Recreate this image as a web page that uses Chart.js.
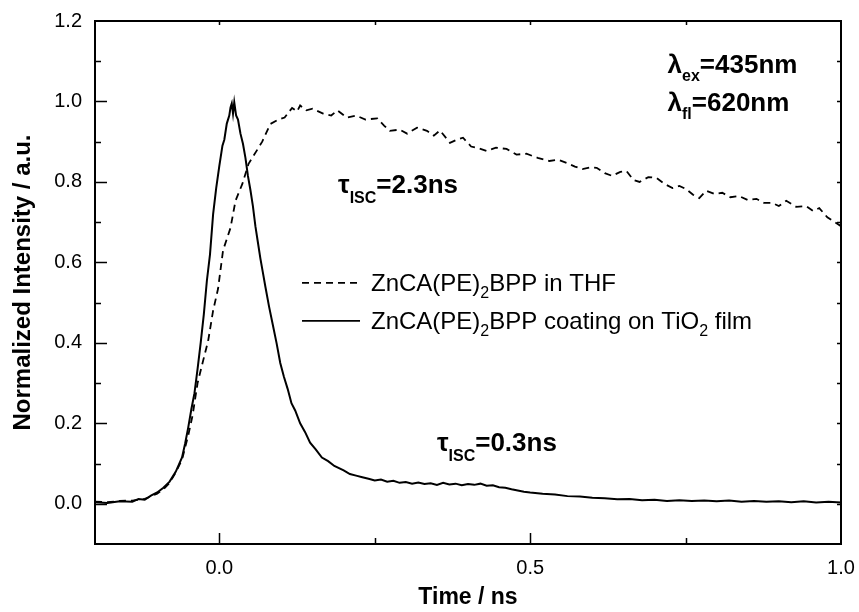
<!DOCTYPE html>
<html>
<head>
<meta charset="utf-8">
<script src="https://cdn.jsdelivr.net/npm/chart.js@4.4.1/dist/chart.umd.min.js"></script>
<style>
  html, body { margin: 0; padding: 0; background: #fff; }
  canvas { display: block; }
</style>
</head>
<body>
<canvas id="chart" width="859" height="612"></canvas>
<script>
// ZnCA(PE)2BPP in THF (dashed)
const timeTHF = [
  -0.20, -0.18, -0.16, -0.14, -0.12, -0.10, -0.09, -0.08, -0.07, -0.06,
  -0.05, -0.043, -0.035, -0.027, -0.018, -0.010, -0.002, 0.006, 0.018, 0.026,
  0.037, 0.047, 0.055, 0.069, 0.082, 0.095, 0.105, 0.117, 0.125, 0.130,
  0.140, 0.150, 0.167, 0.180, 0.190, 0.205, 0.220, 0.235, 0.254, 0.265,
  0.274, 0.290, 0.302, 0.318, 0.334, 0.345, 0.355, 0.371, 0.382, 0.392,
  0.405, 0.414, 0.430, 0.445, 0.462, 0.478, 0.494, 0.512, 0.531, 0.545,
  0.559, 0.572, 0.584, 0.597, 0.607, 0.620, 0.632, 0.645, 0.655, 0.666,
  0.676, 0.690, 0.703, 0.716, 0.729, 0.740, 0.751, 0.762, 0.772, 0.783,
  0.797, 0.809, 0.822, 0.836, 0.850, 0.864, 0.876, 0.889, 0.900, 0.912,
  0.928, 0.944, 0.955, 0.965, 0.978, 0.990, 1.000
];
const intensityTHF = [
  0.005, 0.004, 0.007, 0.008, 0.012, 0.025, 0.036, 0.052, 0.078, 0.110,
  0.170, 0.220, 0.300, 0.350, 0.405, 0.480, 0.535, 0.630, 0.686, 0.753,
  0.795, 0.845, 0.865, 0.900, 0.944, 0.955, 0.960, 0.984, 0.975, 0.990,
  0.978, 0.982, 0.970, 0.965, 0.978, 0.960, 0.965, 0.955, 0.958, 0.940,
  0.927, 0.930, 0.920, 0.935, 0.927, 0.915, 0.928, 0.897, 0.905, 0.910,
  0.888, 0.885, 0.877, 0.885, 0.882, 0.868, 0.870, 0.860, 0.852, 0.855,
  0.847, 0.838, 0.832, 0.836, 0.835, 0.822, 0.815, 0.825, 0.827, 0.805,
  0.800, 0.812, 0.810, 0.795, 0.785, 0.790, 0.782, 0.768, 0.760, 0.778,
  0.770, 0.773, 0.762, 0.765, 0.755, 0.758, 0.748, 0.748, 0.740, 0.753,
  0.738, 0.740, 0.728, 0.735, 0.712, 0.700, 0.690
];

// ZnCA(PE)2BPP coating on TiO2 film (solid)
const timeFilm = [
  -0.20, -0.18, -0.16, -0.14, -0.13, -0.12, -0.11, -0.10, -0.09, -0.08,
  -0.07, -0.06, -0.055, -0.05, -0.045, -0.04, -0.035, -0.03, -0.025, -0.02,
  -0.015, -0.01, -0.005, 0.000, 0.005, 0.008, 0.012, 0.016, 0.018, 0.020,
  0.022, 0.024, 0.027, 0.030, 0.034, 0.038, 0.042, 0.046, 0.050, 0.054,
  0.058, 0.062, 0.066, 0.070, 0.074, 0.080, 0.086, 0.092, 0.098, 0.104,
  0.110, 0.116, 0.122, 0.130, 0.138, 0.146, 0.155, 0.165, 0.175, 0.185,
  0.20, 0.21, 0.22, 0.23, 0.24, 0.25, 0.26, 0.27, 0.28, 0.29,
  0.30, 0.31, 0.32, 0.33, 0.34, 0.35, 0.36, 0.37, 0.38, 0.39,
  0.40, 0.41, 0.42, 0.43, 0.44, 0.45, 0.46, 0.47, 0.48, 0.49,
  0.50, 0.52, 0.54, 0.56, 0.58, 0.60, 0.62, 0.64, 0.66, 0.68,
  0.70, 0.72, 0.74, 0.76, 0.78, 0.80, 0.82, 0.84, 0.86, 0.88,
  0.90, 0.92, 0.94, 0.96, 0.98, 1.00
];
const intensityFilm = [
  0.004, 0.002, 0.006, 0.005, 0.012, 0.010, 0.020, 0.028, 0.040, 0.055,
  0.080, 0.115, 0.150, 0.190, 0.235, 0.275, 0.335, 0.400, 0.470, 0.555,
  0.620, 0.720, 0.785, 0.840, 0.890, 0.905, 0.945, 0.965, 0.985, 0.995,
  0.970, 0.998, 0.965, 0.955, 0.920, 0.895, 0.860, 0.815, 0.780, 0.740,
  0.690, 0.650, 0.610, 0.575, 0.540, 0.490, 0.445, 0.400, 0.350, 0.315,
  0.285, 0.250, 0.232, 0.200, 0.178, 0.152, 0.135, 0.115, 0.106, 0.094,
  0.083, 0.074, 0.070, 0.066, 0.062, 0.058, 0.060, 0.055, 0.057, 0.052,
  0.054, 0.050, 0.053, 0.049, 0.051, 0.047, 0.052, 0.048, 0.050, 0.046,
  0.049, 0.047, 0.050, 0.045, 0.046, 0.041, 0.040, 0.036, 0.033, 0.030,
  0.028, 0.025, 0.023, 0.019, 0.018, 0.015, 0.014, 0.011, 0.012, 0.009,
  0.010, 0.007, 0.009, 0.007, 0.008, 0.006, 0.008, 0.005, 0.007, 0.005,
  0.006, 0.004, 0.006, 0.003, 0.005, 0.003
];

const xMajorTicks = [0.0, 0.5, 1.0];
const yMajorTicks = [0.0, 0.2, 0.4, 0.6, 0.8, 1.0, 1.2];

// rich text pieces: [text, isSubscript]
const legendTHF = [['ZnCA(PE)', false], ['2', true], ['BPP in THF', false]];
const legendFilm = [['ZnCA(PE)', false], ['2', true], ['BPP coating on TiO', false], ['2', true], [' film', false]];
const noteEx = [['λ', false], ['ex', true], ['=435nm', false]];
const noteFl = [['λ', false], ['fl', true], ['=620nm', false]];
const noteTHF = [['τ', false], ['ISC', true], ['=2.3ns', false]];
const noteFilm = [['τ', false], ['ISC', true], ['=0.3ns', false]];

const FONT = "'Liberation Sans', Arial, sans-serif";
Chart.defaults.font.family = FONT;
Chart.defaults.color = '#000';

const isMajor = (v, list) => list.some(m => Math.abs(m - v) < 1e-6);

function drawRich(ctx, x, y, parts, size, bold, subSize, subDrop) {
  const w = bold ? 'bold ' : '';
  ctx.textBaseline = 'alphabetic';
  ctx.textAlign = 'left';
  for (const [t, sub] of parts) {
    ctx.font = w + (sub ? subSize : size) + 'px ' + FONT;
    ctx.fillText(t, x, sub ? y + subDrop : y);
    x += ctx.measureText(t).width;
  }
}

const decor = {
  id: 'decor',
  afterDraw(chart) {
    const {ctx, chartArea: a, scales: {x, y}} = chart;
    ctx.save();
    ctx.strokeStyle = '#000';
    ctx.fillStyle = '#000';

    // ticks pointing inwards, mirrored on top and right
    ctx.lineWidth = 1.5;
    ctx.beginPath();
    x.ticks.forEach(t => {
      if (t.value <= x.min + 1e-6 || t.value >= x.max - 1e-6) return;
      const px = Math.round(x.getPixelForValue(t.value)) + 0.5;
      const len = isMajor(t.value, xMajorTicks) ? 11 : 6;
      ctx.moveTo(px, a.bottom); ctx.lineTo(px, a.bottom - len);
      ctx.moveTo(px, a.top); ctx.lineTo(px, a.top + 4);
    });
    y.ticks.forEach(t => {
      if (t.value <= y.min + 1e-6 || t.value >= y.max - 1e-6) return;
      const py = Math.round(y.getPixelForValue(t.value)) + 0.5;
      const len = isMajor(t.value, yMajorTicks) ? 12 : 6;
      ctx.moveTo(a.left, py); ctx.lineTo(a.left + len, py);
      ctx.moveTo(a.right, py); ctx.lineTo(a.right - 4, py);
    });
    ctx.stroke();

    ctx.lineWidth = 2;
    ctx.strokeRect(a.left, a.top, a.right - a.left, a.bottom - a.top);

    // legend
    const lx = x.getPixelForValue(0.133);
    const ly = y.getPixelForValue(0.549);
    const sets = chart.data.datasets;
    [legendTHF, legendFilm].forEach((parts, i) => {
      const sy = ly + i * 38;
      ctx.lineWidth = 1.8;
      ctx.setLineDash(sets[i].borderDash || []);
      ctx.beginPath();
      ctx.moveTo(lx, sy); ctx.lineTo(lx + 58, sy);
      ctx.stroke();
      ctx.setLineDash([]);
      drawRich(ctx, lx + 69, sy + 8, parts, 24, false, 16, 7);
    });

    // annotations
    drawRich(ctx, x.getPixelForValue(0.721), y.getPixelForValue(1.071), noteEx, 26, true, 16, 8);
    drawRich(ctx, x.getPixelForValue(0.721), y.getPixelForValue(0.976), noteFl, 26, true, 16, 8);
    drawRich(ctx, x.getPixelForValue(0.191), y.getPixelForValue(0.773), noteTHF, 26, true, 16, 10);
    drawRich(ctx, x.getPixelForValue(0.350), y.getPixelForValue(0.132), noteFilm, 26, true, 16, 10);
    ctx.restore();
  }
};

const toPoints = (xs, ys) => xs.map((v, i) => ({x: v, y: ys[i]}));

new Chart(document.getElementById('chart').getContext('2d'), {
  type: 'line',
  data: {
    datasets: [{
      label: 'ZnCA(PE)2BPP in THF',
      data: toPoints(timeTHF, intensityTHF),
      borderColor: '#000',
      borderWidth: 1.8,
      borderDash: [7, 5],
      pointRadius: 0,
      tension: 0
    }, {
      label: 'ZnCA(PE)2BPP coating on TiO2 film',
      data: toPoints(timeFilm, intensityFilm),
      borderColor: '#000',
      borderWidth: 2,
      pointRadius: 0,
      tension: 0
    }]
  },
  options: {
    responsive: false,
    animation: false,
    layout: { padding: { top: 21, right: 18, left: 0, bottom: 0 } },
    plugins: { legend: { display: false }, tooltip: { enabled: false } },
    scales: {
      x: {
        type: 'linear',
        min: -0.2,
        max: 1.0,
        grid: { display: false, drawTicks: false },
        border: { display: false },
        afterFit: s => { s.height = 68; s.paddingLeft = 0; s.paddingRight = 0; },
        ticks: {
          stepSize: 0.25,
          padding: 12,
          maxRotation: 0,
          autoSkip: false,
          font: { size: 20 },
          callback: v => isMajor(v, xMajorTicks) ? v.toFixed(1) : ''
        },
        title: {
          display: true,
          text: 'Time / ns',
          font: { size: 23, weight: 'bold' },
          padding: { top: 0, bottom: 1 }
        }
      },
      y: {
        min: -0.1,
        max: 1.2,
        grid: { display: false, drawTicks: false },
        border: { display: false },
        afterFit: s => { s.width = 95; s.paddingTop = 0; s.paddingBottom = 0; },
        ticks: {
          stepSize: 0.1,
          padding: 13,
          autoSkip: false,
          font: { size: 20 },
          callback: v => isMajor(v, yMajorTicks) ? v.toFixed(1) : ''
        },
        title: {
          display: true,
          text: 'Normalized Intensity / a.u.',
          font: { size: 24, weight: 'bold' },
          padding: { top: 9, bottom: 0 }
        }
      }
    }
  },
  plugins: [decor]
});
</script>
</body>
</html>
